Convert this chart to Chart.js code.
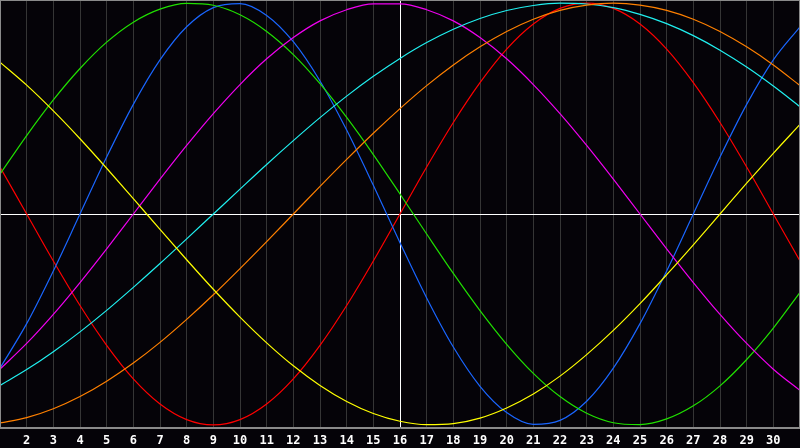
<!DOCTYPE html>
<html>
<head>
<meta charset="utf-8">
<script src="https://cdn.jsdelivr.net/npm/chart.js/dist/chart.umd.min.js"></script>
<style>
    body { margin: 0; background: #050308; }
    #wrap { width: 800px; height: 448px; position: relative; }
</style>
</head>
<body>
<div id="wrap"><canvas id="bioChart"></canvas></div>
<script>
    // days of the month shown
    const days = Array.from({length: 31}, (_, i) => i + 1);
    const today = 16;

    // curve values, one per day (-1 .. 1)
    const redVals = [0.223, 0, -0.223, -0.434, -0.623, -0.782, -0.901, -0.975, -1, -0.975, -0.901, -0.782, -0.623, -0.434, -0.223, 0,
        0.223, 0.434, 0.623, 0.782, 0.901, 0.975, 1, 0.975, 0.901, 0.782, 0.623, 0.434, 0.223, 0, -0.223];
    const greenVals = [0.189, 0.372, 0.541, 0.690, 0.815, 0.910, 0.972, 0.999, 0.990, 0.945, 0.866, 0.756, 0.618, 0.458, 0.282, 0.095,
        -0.095, -0.282, -0.458, -0.618, -0.756, -0.866, -0.945, -0.990, -0.999, -0.972, -0.910, -0.815, -0.690, -0.541, -0.372];
    const blueVals = [-0.731, -0.520, -0.270, 0, 0.270, 0.520, 0.731, 0.888, 0.979, 0.998, 0.942, 0.817, 0.631, 0.398, 0.136, -0.136,
        -0.398, -0.631, -0.817, -0.942, -0.998, -0.979, -0.888, -0.731, -0.520, -0.270, 0, 0.270, 0.520, 0.731, 0.888];
    const magentaVals = [-0.736, -0.614, -0.476, -0.325, -0.165, 0, 0.165, 0.325, 0.476, 0.614, 0.736, 0.837, 0.916, 0.969, 0.997, 0.997,
        0.969, 0.916, 0.837, 0.736, 0.614, 0.476, 0.325, 0.165, 0, -0.165, -0.325, -0.476, -0.614, -0.736, -0.837];
    const cyanVals = [-0.813, -0.738, -0.653, -0.559, -0.457, -0.348, -0.235, -0.118, 0, 0.118, 0.235, 0.348, 0.457, 0.559, 0.653, 0.738,
        0.813, 0.876, 0.927, 0.965, 0.989, 1.000, 0.996, 0.979, 0.947, 0.903, 0.846, 0.777, 0.697, 0.607, 0.509];
    const orangeVals = [-0.991, -0.966, -0.924, -0.866, -0.793, -0.707, -0.609, -0.500, -0.383, -0.259, -0.131, 0, 0.131, 0.259, 0.383, 0.500,
        0.609, 0.707, 0.793, 0.866, 0.924, 0.966, 0.991, 1, 0.991, 0.966, 0.924, 0.866, 0.793, 0.707, 0.609];
    const yellowVals = [0.720, 0.611, 0.489, 0.357, 0.217, 0.073, -0.073, -0.217, -0.357, -0.489, -0.611, -0.720, -0.813, -0.889, -0.946, -0.983,
        -0.999, -0.994, -0.968, -0.920, -0.854, -0.769, -0.667, -0.552, -0.425, -0.288, -0.146, 0, 0.146, 0.288, 0.425];

    const series = [
        {vals: yellowVals, color: '#ffff00'},
        {vals: orangeVals, color: '#ff8000'},
        {vals: cyanVals, color: '#20f0f0'},
        {vals: magentaVals, color: '#f000f0'},
        {vals: greenVals, color: '#20e000'},
        {vals: blueVals, color: '#1a66ff'},
        {vals: redVals, color: '#ff0000'}
    ];

    // grey frame round the plot area
    const framePlugin = {
        id: 'frame',
        afterDraw(chart) {
            const a = chart.chartArea;
            const c = chart.ctx;
            c.save();
            c.strokeStyle = '#8a8a8a';
            c.lineWidth = 1;
            c.strokeRect(a.left + 0.5, a.top + 0.5, a.right - a.left - 1, a.bottom - a.top - 1);
            c.restore();
        }
    };

    const ctx = document.getElementById('bioChart').getContext('2d');

    const myChart = new Chart(ctx, {
        type: 'line',
        data: {
            datasets: series.map(s => ({
                data: days.map((d, i) => ({x: d, y: s.vals[i]})),
                borderColor: s.color,
                borderWidth: 1.2,
                pointRadius: 0,
                cubicInterpolationMode: 'monotone',
                fill: false
            }))
        },
        plugins: [framePlugin],
        options: {
            responsive: true,
            maintainAspectRatio: false,
            animation: false,
            layout: { padding: 0, autoPadding: false },
            plugins: {
                legend: { display: false },
                tooltip: { enabled: false }
            },
            scales: {
                x: {
                    type: 'linear',
                    min: 1,
                    max: 31,
                    afterFit: scale => {
                        scale.paddingLeft = 0;
                        scale.paddingRight = 0;
                        scale.height = 20;
                    },
                    ticks: {
                        stepSize: 1,
                        autoSkip: false,
                        maxRotation: 0,
                        padding: 6,
                        color: '#ffffff',
                        font: { family: 'DejaVu Sans Mono', size: 12, weight: 'bold' },
                        callback: v => (v === 1 || v === 31) ? '' : String(v)
                    },
                    grid: {
                        drawTicks: false,
                        lineWidth: 1,
                        color: c => c.tick && c.tick.value === today ? '#ffffff' : '#353535'
                    },
                    border: { color: '#8a8a8a' }
                },
                y: {
                    min: -1.015,
                    max: 1.015,
                    afterFit: scale => { scale.width = 0; },
                    ticks: { display: false, stepSize: 0.5 },
                    grid: {
                        drawTicks: false,
                        color: c => c.tick && c.tick.value === 0 ? '#ffffff' : 'rgba(0,0,0,0)'
                    },
                    border: { color: '#8a8a8a' }
                }
            }
        }
    });
</script>
</body>
</html>
